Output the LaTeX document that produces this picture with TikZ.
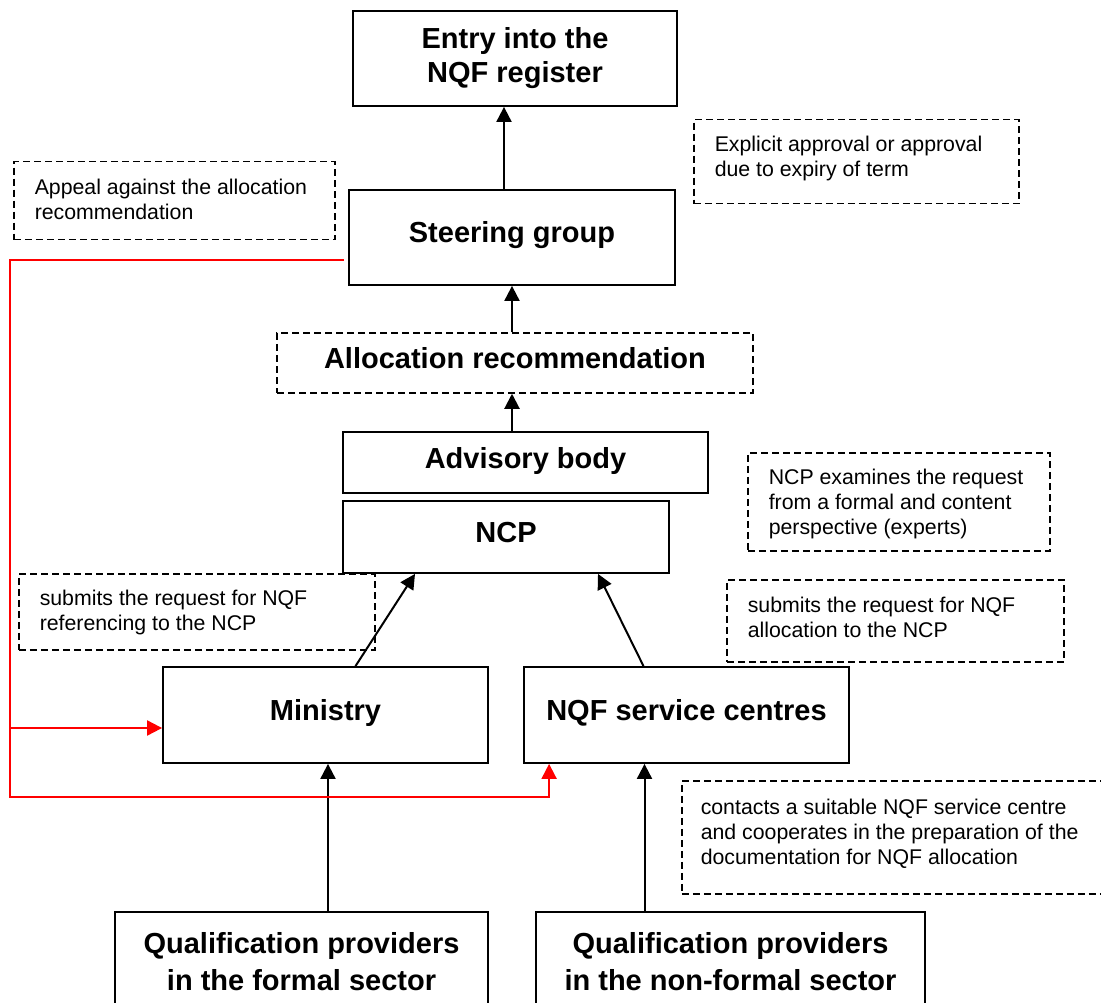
\documentclass[tikz,border=0pt]{standalone}
\usepackage{fontspec}
\setmainfont{Liberation Sans}
\usepackage{tikz}
\usetikzlibrary{positioning,arrows.meta}
\tikzset{
  bodynode/.style  = {rectangle, draw=black, line width=1.8pt, align=center,
                      inner sep=0pt, font=\fontsize{29}{34}\selectfont\bfseries},
  recnode/.style   = {bodynode, line width=1.5pt, dash pattern=on 7pt off 4pt},
  oneline/.style   = {text height=21pt, text depth=10pt},
  notenode/.style  = {rectangle, draw=black, line width=1.5pt, dash pattern=on 7pt off 4pt,
                      anchor=north west, font=\fontsize{21.3}{25}\selectfont},
  flowedge/.style  = {-{Triangle[length=15pt,width=15pt]}, line width=2pt},
  appealedge/.style = {red, line width=2pt},
  appealarrow/.style = {appealedge, -{Triangle[length=15pt,width=15pt]}}
}

\begin{document}
\begin{tikzpicture}[x=1pt, y=-1pt]
  \useasboundingbox (0,0) rectangle (1101,1003);
  % Upper chain
  \node[bodynode, minimum width=324pt, minimum height=95pt] (entry) at (515,58.5)
    {Entry into the\\NQF register};
  \node[bodynode, oneline, minimum width=326pt, minimum height=95pt] (steer) at (512,237.5)
    {Steering group};
  \node[recnode, oneline, minimum width=476pt, minimum height=60pt] (alloc) at (515,363)
    {Allocation recommendation};
  \node[bodynode, oneline, minimum width=365pt, minimum height=61pt] (advis) at (525.5,462.5)
    {Advisory body};
  \node[bodynode, oneline, minimum width=326pt, minimum height=72pt] (ncp) at (506,537)
    {NCP};
  % Submitters
  \node[bodynode, oneline, minimum width=325pt, minimum height=96pt] (ministry) at (325.5,715)
    {Ministry};
  \node[bodynode, oneline, minimum width=325pt, minimum height=96pt] (nqfsc) at (686.5,715)
    {NQF service centres};
  % Providers
  \node[bodynode, minimum width=373pt, minimum height=100pt] (formal) at (301.5,962)
    {Qualification providers\\[3pt]in the formal sector};
  \node[bodynode, minimum width=389pt, minimum height=100pt] (nonformal) at (730.5,962)
    {Qualification providers\\[3pt]in the non-formal sector};
  % Notes
  \node[notenode, inner xsep=21pt, inner ysep=17.5pt] (appealnote) at (13,161)
    {\parbox[t][43pt][t]{279pt}{Appeal against the allocation\\recommendation}};
  \node[notenode, inner xsep=21pt, inner ysep=16pt] (approvnote) at (693,119)
    {\parbox[t][52pt][t]{283pt}{Explicit approval or approval\\due to expiry of term}};
  \node[notenode, inner xsep=21pt, inner ysep=16pt] (examnote) at (747,452)
    {\parbox[t][66pt][t]{260pt}{NCP examines the request\\from a formal and content\\perspective (experts)}};
  \node[notenode, inner xsep=21pt, inner ysep=16pt] (refnote) at (18,573)
    {\parbox[t][44pt][t]{314pt}{submits the request for NQF\\referencing to the NCP}};
  \node[notenode, inner xsep=21pt, inner ysep=17pt] (allocnote) at (726,579)
    {\parbox[t][48pt][t]{295pt}{submits the request for NQF\\allocation to the NCP}};
  \node[notenode, inner xsep=19pt, inner ysep=18pt] (contactnote) at (681,780)
    {\parbox[t][77pt][t]{393pt}{contacts a suitable NQF service centre\\and cooperates in the preparation of the\\documentation for NQF allocation}};
  % Edges
  \draw[flowedge] ([xshift=-8pt]steer.north) -- ([xshift=-8pt]steer.north |- entry.south);
  \draw[flowedge] (alloc.north -| steer.south) -- (steer.south);
  \draw[flowedge] (advis.north -| steer.south) -- (alloc.south -| steer.south);
  \draw[flowedge] ([xshift=30pt]ministry.north) -- ([xshift=-91pt]ncp.south);
  \draw[flowedge] ([xshift=-43pt]nqfsc.north) -- ([xshift=92pt]ncp.south);
  \draw[flowedge] ([xshift=2.5pt]ministry.south |- formal.north) -- ([xshift=2.5pt]ministry.south);
  \draw[flowedge] ([xshift=-42pt]nqfsc.south |- nonformal.north) -- ([xshift=-42pt]nqfsc.south);
  % Appeal path
  \coordinate (appealstart)  at (344,260);
  \coordinate (appealtop)    at (10,260);
  \coordinate (appealfork)   at (10,728);
  \coordinate (appealbottom) at (10,797);
  \draw[appealarrow] (appealstart) -- (appealtop) -- (appealbottom)
    -| ([xshift=26pt]nqfsc.south west);
  \draw[appealarrow] (appealfork) -- (appealfork -| ministry.west);
\end{tikzpicture}
\end{document}
